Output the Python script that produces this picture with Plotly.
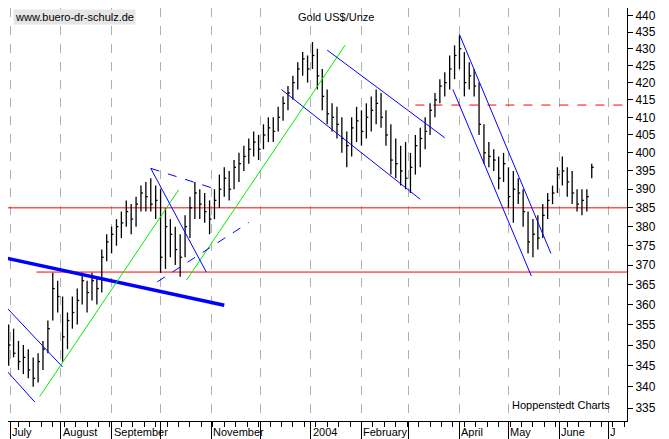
import plotly.graph_objects as go
import pandas as pd
import numpy as np

highs = [352,355,354,351,350,349,347,348,351,356,368,366,362,358,362,364,368,366,368,367,
         374,378,380,382,384,387,386,388,391,392,393,391,390,385,382,380,378,383,388,392,
         390,389,387,390,394,396,395,398,400,402,404,406,405,408,410,410,413,416,419,422,
         426,429,428,432,430,424,418,414,413,410,406,410,413,412,414,416,418,417,412,408,
         404,402,403,400,405,407,410,414,417,421,423,428,431,434,429,426,424,420,408,403,
         401,399,400,396,395,393,390,384,382,383,386,389,391,396,399,396,395,390,390,390,397]
lows = [343,345,347,344,343,342,340,341,344,348,356,358,346,349,354,355,360,358,361,360,
        363,371,373,375,377,380,378,380,384,384,384,382,368,369,372,370,367,372,377,382,
        382,381,378,382,385,388,387,390,392,395,397,399,398,401,403,403,406,409,412,415,
        418,422,420,424,418,412,408,406,404,400,396,399,403,402,404,406,408,407,402,394,
        393,391,390,389,394,396,401,405,410,414,416,418,421,424,416,418,416,405,397,396,
        395,390,392,385,381,386,380,373,372,374,377,382,386,389,391,388,386,384,383,384,393]
closes = [346,350,348,346,347,344,342,346,349,354,364,362,352,356,358,361,366,363,366,364,
          372,376,378,380,381,384,382,386,389,388,386,387,372,380,378,374,372,380,385,389,
          386,384,382,387,390,393,390,396,397,399,401,403,401,405,407,406,410,414,417,420,
          424,427,424,428,422,416,411,410,408,404,402,407,409,406,410,412,414,410,405,398,
          397,395,393,396,402,404,406,412,415,419,420,424,428,430,420,422,419,408,400,399,
          398,393,397,388,390,389,384,376,378,377,383,387,389,394,395,392,389,386,387,388,396]
dates = pd.date_range("2003-06-27", periods=len(highs), freq="3D")

month_ticks = pd.date_range("2003-07-01", "2004-07-01", freq="MS")
month_labels = ["July","August","September","","November","","2004","February","","April","May","June","J"]
y_ticks = list(range(335, 445, 5))

# trend lines: (date0, price0, date1, price1, color, width, dash)
trend_lines = [
    ("2003-06-26", 372.0, "2003-11-09", 359.8, "#0000ff", 3.5, "solid"),
    ("2003-06-26", 345.0, "2003-07-16", 336.4, "#0000ff", 1, "solid"),
    ("2003-06-26", 360.4, "2003-08-02", 344.7, "#0000ff", 1, "solid"),
    ("2003-07-19", 337.7, "2003-10-12", 389.8, "#00ee00", 1, "solid"),
    ("2003-10-17", 366.2, "2004-01-22", 431.1, "#00ee00", 1, "solid"),
    ("2003-09-25", 395.7, "2003-10-29", 368.2, "#0000ff", 1, "solid"),
    ("2003-09-25", 395.7, "2003-11-02", 390.3, "#0000ff", 1, "dash"),
    ("2003-09-29", 365.7, "2003-11-24", 381.1, "#0000ff", 1, "dash"),
    ("2004-01-11", 429.6, "2004-03-23", 404.2, "#0000ff", 1, "solid"),
    ("2003-12-14", 418.0, "2004-03-08", 387.3, "#0000ff", 1, "solid"),
    ("2004-04-01", 434.3, "2004-05-27", 373.0, "#0000ff", 1, "solid"),
    ("2004-03-28", 418.0, "2004-05-15", 367.2, "#0000ff", 1, "solid"),
]
h_lines = [
    ("2003-06-26", "2004-07-14", 385.0, "solid"),
    ("2003-07-17", "2004-07-14", 368.2, "solid"),
    ("2004-03-05", "2004-07-14", 413.5, "dash"),
]

bx, by = [], []
for d, h, l, c in zip(dates, highs, lows, closes):
    bx += [d, d, None, d, d + pd.Timedelta(days=1.2), None]
    by += [l, h, None, c, c, None]

fig = go.Figure()
for x0, x1, yv, dash in h_lines:
    fig.add_trace(go.Scatter(x=[x0, x1], y=[yv, yv], mode="lines",
                             line=dict(color="#ff0000", width=1, dash=dash), hoverinfo="skip"))
fig.add_trace(go.Scatter(x=bx, y=by, mode="lines", line=dict(color="black", width=1.3)))
for x0, y0, x1, y1, col, w, dash in trend_lines:
    fig.add_trace(go.Scatter(x=[x0, x1], y=[y0, y1], mode="lines",
                             line=dict(color=col, width=w, dash=dash)))

for d, lab in zip(month_ticks, month_labels):
    if lab:
        fig.add_annotation(x=d, y=0, xref="x", yref="paper", yanchor="top", xanchor="left",
                           text=lab, showarrow=False, xshift=0, yshift=-3,
                           font=dict(size=11, color="black"))

fig.add_annotation(x=0.008, y=0.998, xref="paper", yref="paper", xanchor="left", yanchor="top",
                   text="www.buero-dr-schulz.de", showarrow=False, bgcolor="#e6e6e6",
                   font=dict(size=11, color="black"))
fig.add_annotation(x=0.53, y=0.998, xref="paper", yref="paper", xanchor="center", yanchor="top",
                   text="Gold US$/Unze", showarrow=False, font=dict(size=11, color="black"))
fig.add_annotation(x=0.975, y=0.02, xref="paper", yref="paper", xanchor="right", yanchor="bottom",
                   text="Hoppenstedt Charts", showarrow=False, font=dict(size=11, color="black"))

fig.update_layout(
    width=669, height=439, margin=dict(l=0, r=50, t=0, b=26),
    paper_bgcolor="white", plot_bgcolor="white", showlegend=False,
    font=dict(family="Liberation Sans, Arial, sans-serif", size=12, color="black"),
    xaxis=dict(type="date", range=["2003-06-29 14:00", "2004-07-12 14:00"],
               tickvals=list(month_ticks), showticklabels=False,
               showgrid=True, gridcolor="#b0b0b0", griddash="dash", gridwidth=1,
               ticks="outside", ticklen=18, tickcolor="black",
               minor=dict(dtick=7*86400000, ticks="outside", ticklen=5, tickcolor="black", showgrid=False),
               showline=True, linecolor="black", zeroline=False),
    yaxis=dict(type="log", range=[np.log10(332.0), np.log10(442.35)], side="right",
               tickvals=y_ticks, ticktext=[str(v) for v in y_ticks],
               showgrid=False, ticks="outside", ticklen=5, tickcolor="black",
               showline=True, linecolor="black", zeroline=False),
)
fig.write_html("out.html")
